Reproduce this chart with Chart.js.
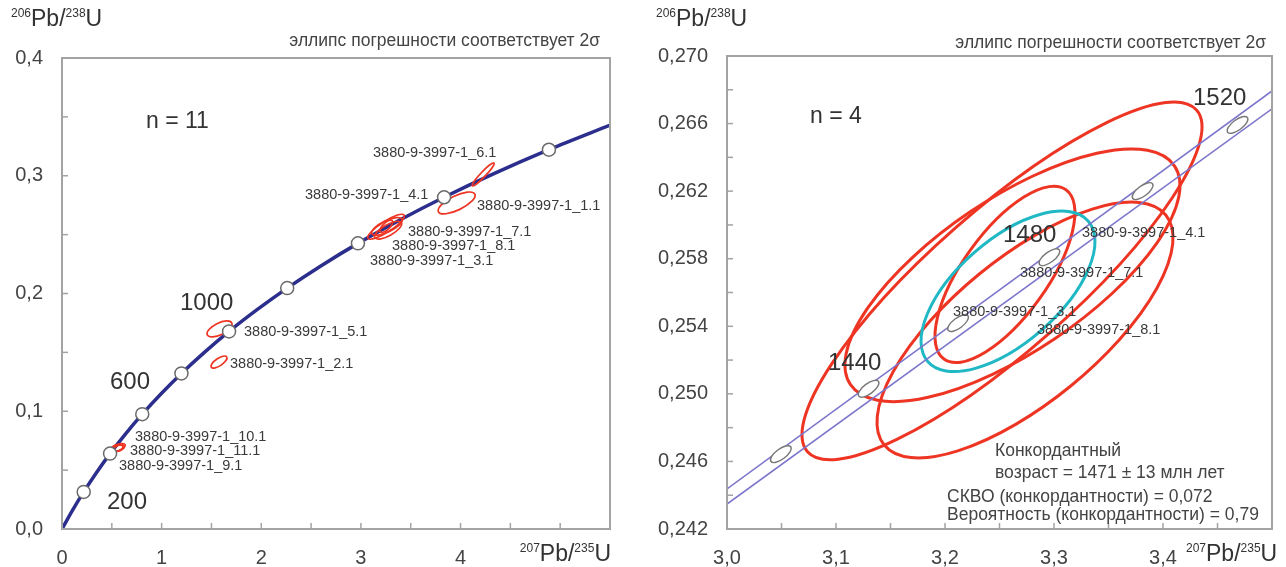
<!DOCTYPE html>
<html>
<head>
<meta charset="utf-8">
<script src="https://cdn.jsdelivr.net/npm/chart.js@4.4.1/dist/chart.umd.min.js"></script>
<style>
  html, body { margin: 0; padding: 0; background: #fff; }
  #wrap { position: relative; width: 1286px; height: 567px; overflow: hidden; }
  #c1 { position: absolute; left: 0; top: 0; }
  #c2 { position: absolute; left: 640px; top: 0; }
</style>
</head>
<body>
<div id="wrap">
  <canvas id="c1" width="640" height="567"></canvas>
  <canvas id="c2" width="646" height="567"></canvas>
</div>
<script>
// ---- concordia (left diagram), ages in Ma ----
const concAges = [0, 100, 200, 300, 400, 500, 600, 700, 800, 900, 1000, 1100, 1200, 1300, 1400, 1500, 1600, 1700, 1800, 1900];
const concX = [0, 0.1035, 0.2177, 0.3435, 0.4824, 0.6362, 0.8056, 0.9925, 1.1987, 1.4263, 1.6768, 1.9546, 2.2603, 2.5977, 2.9703, 3.3813, 3.8347, 4.3350, 4.8870, 5.4962];
const concY = [0, 0.01563, 0.03151, 0.04764, 0.06404, 0.08065, 0.09754, 0.11470, 0.13213, 0.14982, 0.16783, 0.18606, 0.20460, 0.22343, 0.24257, 0.26200, 0.28173, 0.30177, 0.32212, 0.34279];

// age markers on the concordia
const markAges = [200, 400, 600, 800, 1000, 1200, 1400, 1600, 1800];
const markX = [0.2177, 0.4824, 0.8056, 1.1987, 1.6768, 2.2603, 2.9703, 3.8347, 4.8870];
const markY = [0.03151, 0.06404, 0.09754, 0.13213, 0.16783, 0.20460, 0.24257, 0.28173, 0.32212];

// ---- zircon analyses (2 sigma ellipses) ----
const sampleNames = ["1.1", "2.1", "3.1", "4.1", "5.1", "6.1", "7.1", "8.1", "9.1", "10.1", "11.1"];
const sampleX   = [3.961, 1.576, 3.2550, 3.2523, 1.581, 4.227, 3.2619, 3.2734, 0.550, 0.560, 0.575];
const sampleY   = [0.2769, 0.1418, 0.25707, 0.25669, 0.1699, 0.3011, 0.25702, 0.25378, 0.0684, 0.0692, 0.0688];
const sampleSx  = [0.186, 0.080, 0.0642, 0.1835, 0.1255, 0.110, 0.1537, 0.1358, 0.060, 0.075, 0.050];
const sampleSy  = [0.0093, 0.0051, 0.00522, 0.01059, 0.0068, 0.0098, 0.00748, 0.00757, 0.0030, 0.0034, 0.0027];
const sampleRho = [0.70, 0.70, 0.70, 0.86, 0.60, 0.95, 0.71, 0.72, 0.50, 0.55, 0.40];
// analyses used for the concordant age (right diagram)
const concordantSet = ["3.1", "4.1", "7.1", "8.1"];

// concordant age ellipse, 1471 Ma
const concAgeX = 3.2578, concAgeY = 0.25607, concAgeSx = 0.0798, concAgeSy = 0.00475, concAgeRho = 0.62;

// ---- right diagram: concordia band with decay-constant errors ----
const bandX = [3.0, 3.5];
const bandUpperY = [0.24437, 0.26793];
const bandLowerY = [0.24348, 0.26687];
const bandAges = [1420, 1440, 1460, 1480, 1500, 1520];
const bandMarkX = [3.0494, 3.1299, 3.2120, 3.2958, 3.3813, 3.4684];
const bandMarkY = [0.24643, 0.25030, 0.25419, 0.25809, 0.26200, 0.26592];

// ---- axes ----
const leftXTicks = [0, 1, 2, 3, 4];
const leftYTicks = [0, 0.1, 0.2, 0.3, 0.4];
const rightXTicks = [3.0, 3.1, 3.2, 3.3, 3.4];
const rightYTicks = [0.242, 0.246, 0.250, 0.254, 0.258, 0.262, 0.266, 0.270];

const FONT = '"Liberation Sans", Arial, sans-serif';
const RED = "#ee3523";

function pts(xs, ys) {
    return xs.map((x, i) => ({ x: x, y: ys[i] }));
}

// ellipse from center, half-extents and correlation, mapped through the chart scales
function ellipsePath(ctx, xs, ys, cx, cy, sx, sy, rho) {
    const px = xs.getPixelForValue(cx), py = ys.getPixelForValue(cy);
    const a = Math.abs(xs.getPixelForValue(cx + sx) - px);
    const b = Math.abs(ys.getPixelForValue(cy + sy) - py);
    const r = -rho; // canvas y runs downward
    const A = a * a, D = b * b, B = r * a * b;
    const m = (A + D) / 2, d = Math.sqrt(((A - D) / 2) ** 2 + B * B);
    const th = 0.5 * Math.atan2(2 * B, A - D);
    ctx.beginPath();
    ctx.ellipse(px, py, Math.sqrt(m + d), Math.sqrt(Math.max(m - d, 0.05)), th, 0, Math.PI * 2);
}

function text(ctx, s, x, y, size, color, align) {
    ctx.font = size + "px " + FONT;
    ctx.fillStyle = color || "#333";
    ctx.textAlign = align || "left";
    ctx.textBaseline = "middle";
    ctx.fillText(s, x, y);
}

// "206Pb/238U" style label, baseline at y
function isoLabel(ctx, x, y, m1, e1, m2, e2, align) {
    const big = "23px " + FONT, small = "12px " + FONT;
    const parts = [[m1, small, -9], [e1 + "/", big, 0], [m2, small, -9], [e2, big, 0]];
    let w = 0;
    parts.forEach(p => { ctx.font = p[1]; w += ctx.measureText(p[0]).width; });
    let cx = align === "right" ? x - w : x;
    ctx.fillStyle = "#333";
    ctx.textAlign = "left";
    ctx.textBaseline = "alphabetic";
    parts.forEach(p => {
        ctx.font = p[1];
        ctx.fillText(p[0], cx, y + p[2]);
        cx += ctx.measureText(p[0]).width;
    });
}

// frame + small inward ticks
function framePlugin(minorX, minorY) {
    return {
        id: "frame",
        afterDraw(chart) {
            const ctx = chart.ctx, a = chart.chartArea;
            const xs = chart.scales.x, ys = chart.scales.y;
            ctx.save();
            ctx.strokeStyle = "#a3a3a3";
            ctx.lineWidth = 1.5;
            minorX.forEach(v => {
                const p = xs.getPixelForValue(v);
                ctx.beginPath(); ctx.moveTo(p, a.bottom); ctx.lineTo(p, a.bottom - 6); ctx.stroke();
            });
            minorY.forEach(v => {
                const p = ys.getPixelForValue(v);
                ctx.beginPath(); ctx.moveTo(a.left, p); ctx.lineTo(a.left + 6, p); ctx.stroke();
            });
            ctx.lineWidth = 2;
            ctx.strokeRect(a.left, a.top, a.right - a.left, a.bottom - a.top);
            ctx.restore();
        }
    };
}

function baseScales(xmin, xmax, ymin, ymax, xTicks, yTicks, xFmt, yFmt, yWidth) {
    return {
        x: {
            type: "linear", min: xmin, max: xmax,
            afterBuildTicks: s => { s.ticks = xTicks.map(v => ({ value: v })); },
            afterFit: s => { s.height = 38; },
            grid: { display: false, drawTicks: false },
            border: { display: false },
            ticks: { padding: 17, color: "#444", font: { family: FONT, size: 20 }, callback: xFmt, maxRotation: 0 }
        },
        y: {
            type: "linear", min: ymin, max: ymax,
            afterBuildTicks: s => { s.ticks = yTicks.map(v => ({ value: v })); },
            afterFit: s => { s.width = yWidth; },
            grid: { display: false, drawTicks: false },
            border: { display: false },
            ticks: { padding: 19, color: "#444", font: { family: FONT, size: 20 }, callback: yFmt }
        }
    };
}

function range(a, b, step) {
    const out = [];
    for (let v = a; v <= b + step / 10; v += step) out.push(+v.toFixed(4));
    return out;
}

// ================= LEFT DIAGRAM =================
const leftLabels = [
    ["3880-9-3997-1_6.1", 373, 153], ["3880-9-3997-1_4.1", 305, 195], ["3880-9-3997-1_1.1", 477, 206],
    ["3880-9-3997-1_7.1", 408, 232], ["3880-9-3997-1_8.1", 392, 246], ["3880-9-3997-1_3.1", 370, 261],
    ["3880-9-3997-1_5.1", 244, 332], ["3880-9-3997-1_2.1", 230, 364],
    ["3880-9-3997-1_10.1", 135, 437], ["3880-9-3997-1_11.1", 130, 451], ["3880-9-3997-1_9.1", 119, 466]
];

new Chart(document.getElementById("c1"), {
    type: "scatter",
    data: {
        datasets: [
            {
                data: pts(markX, markY), pointRadius: 6.5, pointBackgroundColor: "#fff",
                pointBorderColor: "#6a6a6a", pointBorderWidth: 1.5, showLine: false
            },
            {
                data: pts(concX, concY), showLine: true, pointRadius: 0, borderColor: "#2b2e8c",
                borderWidth: 3.5, cubicInterpolationMode: "monotone", fill: false
            }
        ]
    },
    options: {
        responsive: false, animation: false,
        layout: { padding: { left: 0, top: 58, right: 30, bottom: 0 } },
        plugins: { legend: { display: false }, tooltip: { enabled: false } },
        scales: baseScales(0, 5.5, 0, 0.4, leftXTicks, leftYTicks,
            v => String(v), v => v.toFixed(1).replace(".", ","), 62)
    },
    plugins: [
        framePlugin(range(0.5, 5.0, 0.5), range(0.05, 0.35, 0.05)),
        {
            id: "ellipsesLeft",
            afterDatasetDraw(chart, args) {
                if (args.index !== 1) return;
                const ctx = chart.ctx, xs = chart.scales.x, ys = chart.scales.y;
                ctx.save();
                ctx.strokeStyle = RED;
                ctx.lineWidth = 1.7;
                sampleNames.forEach((n, i) => {
                    ellipsePath(ctx, xs, ys, sampleX[i], sampleY[i], sampleSx[i], sampleSy[i], sampleRho[i]);
                    ctx.stroke();
                });
                ctx.restore();
            }
        },
        {
            id: "textLeft",
            afterDraw(chart) {
                const ctx = chart.ctx;
                ctx.save();
                leftLabels.forEach(l => text(ctx, l[0], l[1], l[2], 14.5, "#3a3a3a"));
                text(ctx, "1000", 180, 303, 24, "#333");
                text(ctx, "600", 110, 382, 24, "#333");
                text(ctx, "200", 107, 502, 24, "#333");
                text(ctx, "n = 11", 146, 122, 23, "#333");
                text(ctx, "эллипс погрешности соответствует 2σ", 600, 41, 17.5, "#444", "right");
                isoLabel(ctx, 11, 26, "206", "Pb", "238", "U");
                isoLabel(ctx, 611, 561, "207", "Pb", "235", "U", "right");
                ctx.restore();
            }
        }
    ]
});

// ================= RIGHT DIAGRAM =================
const OFF = 640;
const rightLabels = [
    ["3880-9-3997-1_4.1", 1082, 233], ["3880-9-3997-1_7.1", 1020, 273],
    ["3880-9-3997-1_3.1", 953, 312], ["3880-9-3997-1_8.1", 1037, 330]
];

new Chart(document.getElementById("c2"), {
    type: "scatter",
    data: {
        datasets: [
            { data: pts(bandX, bandUpperY), showLine: true, pointRadius: 0, borderColor: "#7c76cc", borderWidth: 1.6 },
            { data: pts(bandX, bandLowerY), showLine: true, pointRadius: 0, borderColor: "#7c76cc", borderWidth: 1.6 }
        ]
    },
    options: {
        responsive: false, animation: false,
        layout: { padding: { left: 0, top: 56, right: 14, bottom: 0 } },
        plugins: { legend: { display: false }, tooltip: { enabled: false } },
        scales: baseScales(3.0, 3.5, 0.242, 0.270, rightXTicks, rightYTicks,
            v => v.toFixed(1).replace(".", ","), v => v.toFixed(3).replace(".", ","), 87)
    },
    plugins: [
        framePlugin(range(3.05, 3.45, 0.05), range(0.244, 0.268, 0.002)),
        {
            id: "ellipsesRight",
            beforeDatasetsDraw(chart) {
                const ctx = chart.ctx, xs = chart.scales.x, ys = chart.scales.y;
                ctx.save();
                ctx.beginPath();
                ctx.rect(chart.chartArea.left, chart.chartArea.top, chart.chartArea.width, chart.chartArea.height);
                ctx.clip();
                ctx.strokeStyle = RED;
                ctx.lineWidth = 3;
                sampleNames.forEach((n, i) => {
                    if (!concordantSet.includes(n)) return;
                    ellipsePath(ctx, xs, ys, sampleX[i], sampleY[i], sampleSx[i], sampleSy[i], sampleRho[i]);
                    ctx.stroke();
                });
                ctx.strokeStyle = "#1fb8c4";
                ellipsePath(ctx, xs, ys, concAgeX, concAgeY, concAgeSx, concAgeSy, concAgeRho);
                ctx.stroke();
                ctx.restore();
            },
            afterDatasetsDraw(chart) {
                const ctx = chart.ctx, xs = chart.scales.x, ys = chart.scales.y;
                ctx.save();
                ctx.fillStyle = "#fff";
                ctx.strokeStyle = "#777";
                ctx.lineWidth = 1.4;
                bandAges.forEach((a, i) => {
                    ellipsePath(ctx, xs, ys, bandMarkX[i], bandMarkY[i], 0.0095, 0.0005, 0.69);
                    ctx.fill();
                    ctx.stroke();
                });
                ctx.restore();
            }
        },
        {
            id: "textRight",
            afterDraw(chart) {
                const ctx = chart.ctx;
                ctx.save();
                rightLabels.forEach(l => text(ctx, l[0], l[1] - OFF, l[2], 14.5, "#3a3a3a"));
                text(ctx, "1520", 1193 - OFF, 98, 24, "#333");
                text(ctx, "1480", 1003 - OFF, 235, 24, "#333");
                text(ctx, "1440", 828 - OFF, 363, 24, "#333");
                text(ctx, "n = 4", 810 - OFF, 117, 23, "#333");
                text(ctx, "эллипс погрешности соответствует 2σ", 1266 - OFF, 43, 17.5, "#444", "right");
                text(ctx, "Конкордантный", 995 - OFF, 451, 17.5, "#444");
                text(ctx, "возраст = 1471 ± 13 млн лет", 995 - OFF, 473, 17.5, "#444");
                text(ctx, "СКВО (конкордантности) = 0,072", 947 - OFF, 497, 17.5, "#444");
                text(ctx, "Вероятность (конкордантности) = 0,79", 947 - OFF, 515, 17.5, "#444");
                isoLabel(ctx, 656 - OFF, 26, "206", "Pb", "238", "U");
                isoLabel(ctx, 1186 - OFF, 561, "207", "Pb", "235", "U");
                ctx.restore();
            }
        }
    ]
});
</script>
</body>
</html>
